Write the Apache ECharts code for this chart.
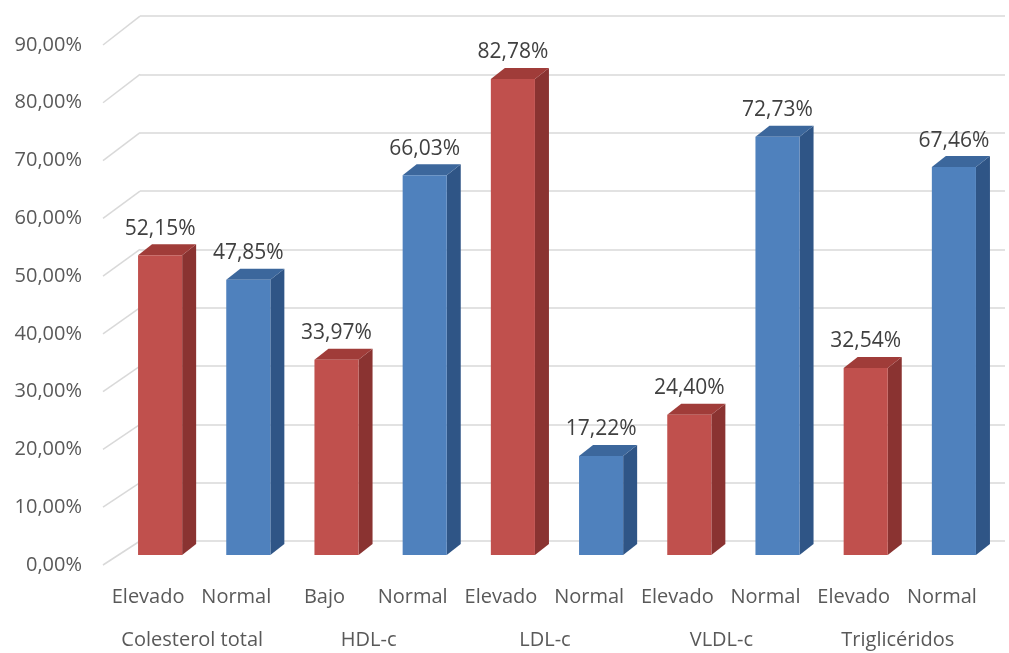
<!DOCTYPE html>
<html>
<head>
<meta charset="utf-8">
<script src="https://cdn.jsdelivr.net/npm/echarts@6/dist/echarts.min.js"></script>
<style>
  html, body { margin: 0; padding: 0; background: #ffffff; }
  #chart { width: 1009px; height: 653px; }
</style>
</head>
<body>
<div id="chart"></div>
<script>
// Lipid profile results: share of patients per category
const categories = ['Elevado', 'Normal', 'Bajo', 'Normal', 'Elevado', 'Normal', 'Elevado', 'Normal', 'Elevado', 'Normal'];
const groups = ['Colesterol total', 'HDL-c', 'LDL-c', 'VLDL-c', 'Triglicéridos'];
const values = [52.15, 47.85, 33.97, 66.03, 82.78, 17.22, 24.40, 72.73, 32.54, 67.46];
const yTicks = [0, 10, 20, 30, 40, 50, 60, 70, 80, 90];

const FONT = '"Open Sans", "Noto Sans", sans-serif';
const palettes = {
  red: { front: '#C0504D', side: '#8A3331', top: '#A03C39' },
  blue: { front: '#4F81BD', side: '#2F5586', top: '#3C679C' }
};
const fmt = v => v.toFixed(2).replace('.', ',') + '%';

// 3D-looking column: front face, right side and top face
function renderBar(params, api) {
  const i = api.value(0), v = api.value(1);
  const top = api.coord([i, v]);
  const base = api.coord([i, 0]);
  const w = api.size([1, 0])[0] * 0.5;
  const x0 = top[0] - w / 2, x1 = top[0] + w / 2;
  const yT = top[1], yB = base[1];
  const dx = 14, dy = 11;
  const pal = categories[i] === 'Normal' ? palettes.blue : palettes.red;
  return {
    type: 'group',
    children: [
      { type: 'polygon', shape: { points: [[x1, yT], [x1 + dx, yT - dy], [x1 + dx, yB - dy], [x1, yB]] }, style: { fill: pal.side } },
      { type: 'polygon', shape: { points: [[x0, yT], [x0 + dx, yT - dy], [x1 + dx, yT - dy], [x1, yT]] }, style: { fill: pal.top } },
      { type: 'rect', shape: { x: x0, y: yT, width: w, height: yB - yT }, style: { fill: pal.front } },
      { type: 'text', x: top[0], y: yT - 16, style: { text: fmt(v), fill: '#404040', font: '21px ' + FONT, align: 'center', verticalAlign: 'bottom' } }
    ]
  };
}

// Side-wall gridlines running from the value labels to the back wall
function renderSideLine(params, api) {
  const v = api.value(0);
  const p0 = api.coord([0, v]);
  const p1 = api.coord([1, v]);
  return {
    type: 'line',
    shape: { x1: p0[0], y1: p0[1], x2: p1[0], y2: p1[1] - 24 - v * 0.055 },
    style: { stroke: '#D9D9D9', lineWidth: 1.5 }
  };
}

const chart = echarts.init(document.getElementById('chart'), null, { renderer: 'canvas' });
chart.setOption({
  backgroundColor: '#ffffff',
  animation: false,
  grid: [
    { left: 140, right: 4, top: 16, bottom: 112 },          // back wall
    { left: 103, width: 37, top: 45, bottom: 88 },          // value labels + side wall
    { left: 116, right: 11, top: 37.5, bottom: 98 },        // columns
    { left: 104, right: 23, top: 37.5, bottom: 98 }         // category labels
  ],
  xAxis: [
    { gridIndex: 0, type: 'value', min: 0, max: 1, show: false },
    { gridIndex: 1, type: 'value', min: 0, max: 1, show: false },
    { gridIndex: 2, type: 'category', data: categories, show: false },
    {
      gridIndex: 3, type: 'category', data: categories, position: 'bottom',
      axisLine: { show: false }, axisTick: { show: false },
      axisLabel: { interval: 0, margin: 32, color: '#595959', fontSize: 20, fontFamily: FONT }
    },
    {
      gridIndex: 3, type: 'category', data: groups, position: 'bottom', offset: 43,
      axisLine: { show: false }, axisTick: { show: false },
      axisLabel: { interval: 0, margin: 32, color: '#595959', fontSize: 20, fontFamily: FONT }
    }
  ],
  yAxis: [
    {
      gridIndex: 0, type: 'value', min: 0, max: 90, interval: 10,
      axisLine: { show: false }, axisTick: { show: false }, axisLabel: { show: false },
      splitLine: { lineStyle: { color: '#D9D9D9', width: 1.5 } }
    },
    {
      gridIndex: 1, type: 'value', min: 0, max: 90, interval: 10,
      axisLine: { show: false }, axisTick: { show: false }, splitLine: { show: false },
      axisLabel: { margin: 21, color: '#595959', fontSize: 20, fontFamily: FONT, formatter: fmt }
    },
    { gridIndex: 2, type: 'value', min: 0, max: 90, show: false },
    { gridIndex: 3, type: 'value', min: 0, max: 90, show: false }
  ],
  series: [
    {
      type: 'custom', xAxisIndex: 1, yAxisIndex: 1, silent: true,
      renderItem: renderSideLine,
      data: yTicks.map(v => [v])
    },
    {
      type: 'custom', xAxisIndex: 2, yAxisIndex: 2, silent: true,
      renderItem: renderBar,
      encode: { x: 0, y: 1 },
      data: values.map((v, i) => [i, v])
    }
  ]
});
</script>
</body>
</html>
